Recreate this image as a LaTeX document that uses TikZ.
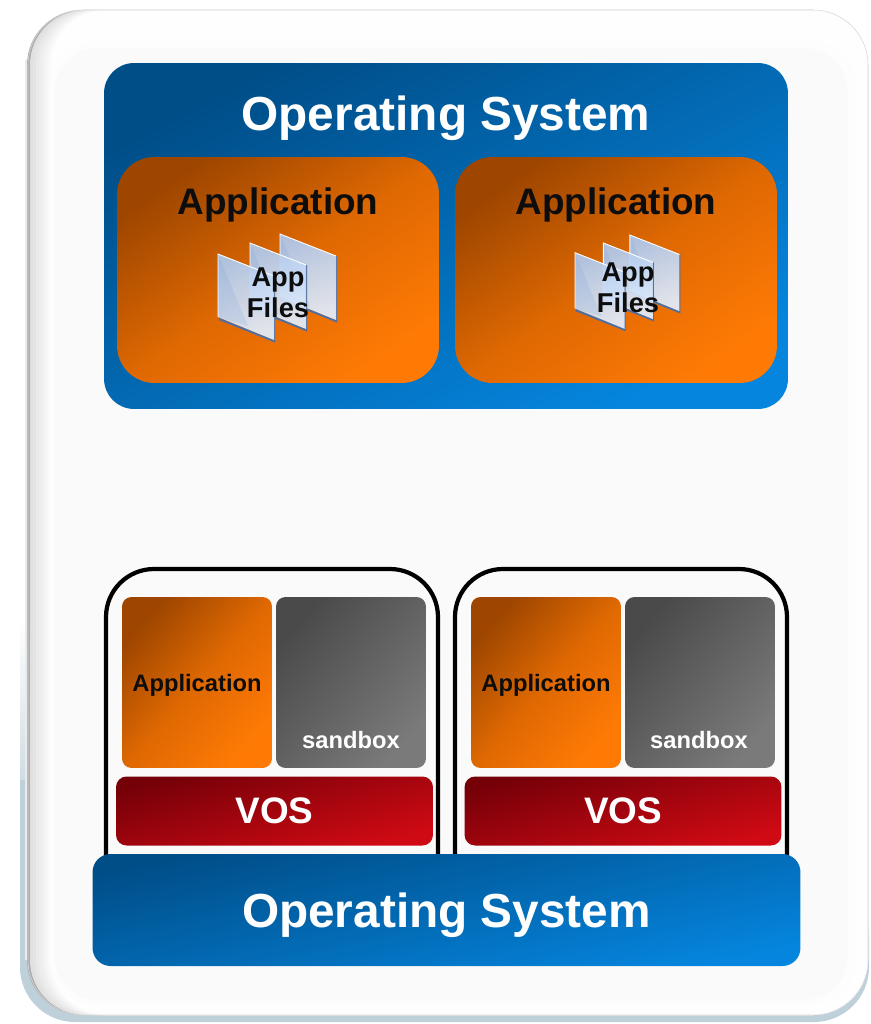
\documentclass[tikz,border=0pt]{standalone}
\usepackage{fontspec}
\setmainfont{Liberation Sans}
\usetikzlibrary{positioning}
\definecolor{osblue}{RGB}{0, 78, 136}
\definecolor{oslight}{RGB}{5, 133, 222}
\definecolor{apporange}{RGB}{158, 70, 0}
\definecolor{appmiddle}{RGB}{222, 104, 2}
\definecolor{applight}{RGB}{255, 122, 5}
\definecolor{sandgray}{RGB}{74, 74, 74}
\definecolor{sandlight}{RGB}{122, 122, 122}
\definecolor{vosred}{RGB}{118, 0, 8}
\definecolor{voslight}{RGB}{208, 10, 20}
\definecolor{panelshadow}{RGB}{190, 208, 218}
\definecolor{paneledge}{RGB}{172, 172, 172}
\definecolor{panelgray}{RGB}{224, 224, 224}
\definecolor{panelfill}{RGB}{250, 250, 250}
\definecolor{sheetblue}{RGB}{176, 202, 238}
\definecolor{sheetlight}{RGB}{226, 237, 252}
\definecolor{sheetdark}{RGB}{120, 160, 215}
\definecolor{sheetedge}{RGB}{80, 110, 160}

\begin{document}
\begin{tikzpicture}[
        x=0.02cm, y=-0.02cm,
        box/.style={rectangle, inner sep=0pt, font=\bfseries, align=center, text depth=0pt},
        osbox/.style={box, top color=osblue, bottom color=oslight, text=white},
        appbox/.style={box, top color=apporange, bottom color=applight, middle color=appmiddle, text=black!95},
        sandbox/.style={box, top color=sandgray, bottom color=sandlight, shading angle=49, rounded corners=5.4pt, minimum width=3cm, minimum height=3.42cm},
        vosbox/.style={box, top color=vosred, bottom color=voslight, shading angle=15, text=white, rounded corners=6pt, minimum width=6.34cm, minimum height=1.38cm, font=\bfseries\fontsize{21}{25}\selectfont},
        smallapp/.style={appbox, shading angle=49, rounded corners=5.4pt, minimum width=3cm, minimum height=3.42cm, font=\bfseries\fontsize{13.5}{16}\selectfont},
        bigapp/.style={appbox, shading angle=35, rounded corners=0.75cm, minimum width=6.44cm, minimum height=4.52cm},
        textlabel/.style={inner sep=0pt, align=center, text depth=0pt, font=\bfseries},
        frame/.style={draw=black, line width=2.4pt, fill=panelfill, rounded corners=0.96cm},
        filegroup/.pic={
            \foreach \dx/\dy in {62/0, 32/9, 0/20} {
                \begin{scope}[shift={(\dx,\dy)}]
                    \draw[sheetedge, line width=1.2pt] (1,65) -- (56,87) -- (56,22);
                    \shade[left color=sheetblue, right color=sheetlight, shading angle=20, opacity=0.93] (0,0) -- (56,22) -- (56,86) -- (0,63) -- cycle;
                    \fill[sheetdark, opacity=0.18] (0,0) -- (30,72) -- (0,63) -- cycle;
                    \draw[white, line width=0.5pt] (0,63) -- (0,0) -- (56,22);
                \end{scope}
            }
        }
    ]
        \useasboundingbox (0,0) rectangle (870,1024);

        % Panel
        \shade[top color=white, bottom color=panelshadow] (20,620) rectangle (30,840);
        \fill[panelshadow] (20,780) rectangle (30,965);
        \fill[panelshadow, rounded corners=1.1cm] (20,880) rectangle (869,1022);
        \fill[black!8] (25,60) rectangle (28,960);
        \fill[paneledge, rounded corners=1.1cm] (27,10) rectangle (868,1015);
        \foreach \i in {0,...,7} {
            \pgfmathsetmacro{\fade}{100-\i*14}
            \fill[panelgray!\fade!white, rounded corners=1.1cm] (30+3*\i,10) rectangle (868,1015);
        }
        \draw[black!15, line width=0.3pt, rounded corners=1.1cm] (28,10) rectangle (868,1015);
        \fill[white!60!panelfill, rounded corners=0.9cm] (50,42) rectangle (856,1004);
        \fill[panelfill, rounded corners=0.9cm] (54,48) rectangle (848,1000);

        % Upper stack
        \node[osbox, shading angle=27, rounded corners=0.6cm, minimum width=13.68cm, minimum height=6.92cm] (os_top) at (446,236) {};
        \node[textlabel, text=white, font=\bfseries\fontsize{27.2}{31}\selectfont] (os_top_text) at (446,113) {Operating System};
        \node[bigapp] (app_l) at (278,270) {};
        \node[bigapp] (app_r) at (616,270) {};
        \node[textlabel, text=black!95, font=\bfseries\fontsize{21}{25}\selectfont] (app_l_text) at (278,201) {Application};
        \node[textlabel, text=black!95, font=\bfseries\fontsize{21}{25}\selectfont] (app_r_text) at (616,201) {Application};

        % App files
        \pic at (218,234) {filegroup};
        \pic[scale=0.885] at (575,235) {filegroup};
        \node[textlabel, text=black!95, font=\bfseries\fontsize{15.5}{17.6}\selectfont] (files_l) at (278,293) {App\\Files};
        \node[textlabel, text=black!95, font=\bfseries\fontsize{15.5}{17.6}\selectfont] (files_r) at (628,288) {App\\Files};

        % Lower stack
        \draw[frame] (106,870) -- (106,569) -- (438,569) -- (438,870);
        \draw[frame] (455,870) -- (455,569) -- (787,569) -- (787,870);

        \node[smallapp] (app_a) at (197,682.5) {Application};
        \node[sandbox] (sand_a) at (351,682.5) {};
        \node[textlabel, text=white, font=\bfseries\fontsize{13.5}{16}\selectfont] (sand_a_text) at (351,740) {sandbox};
        \node[vosbox] (vos_a) at (274.5,811) {VOS};

        \node[smallapp] (app_b) at (546,682.5) {Application};
        \node[sandbox] (sand_b) at (700,682.5) {};
        \node[textlabel, text=white, font=\bfseries\fontsize{13.5}{16}\selectfont] (sand_b_text) at (699,740) {sandbox};
        \node[vosbox] (vos_b) at (623,811) {VOS};

        \node[osbox, shading angle=12, rounded corners=0.36cm, minimum width=14.16cm, minimum height=2.24cm, font=\bfseries\fontsize{27.2}{31}\selectfont] (os_bot) at (446.5,910) {Operating System};
    \end{tikzpicture}
\end{document}
